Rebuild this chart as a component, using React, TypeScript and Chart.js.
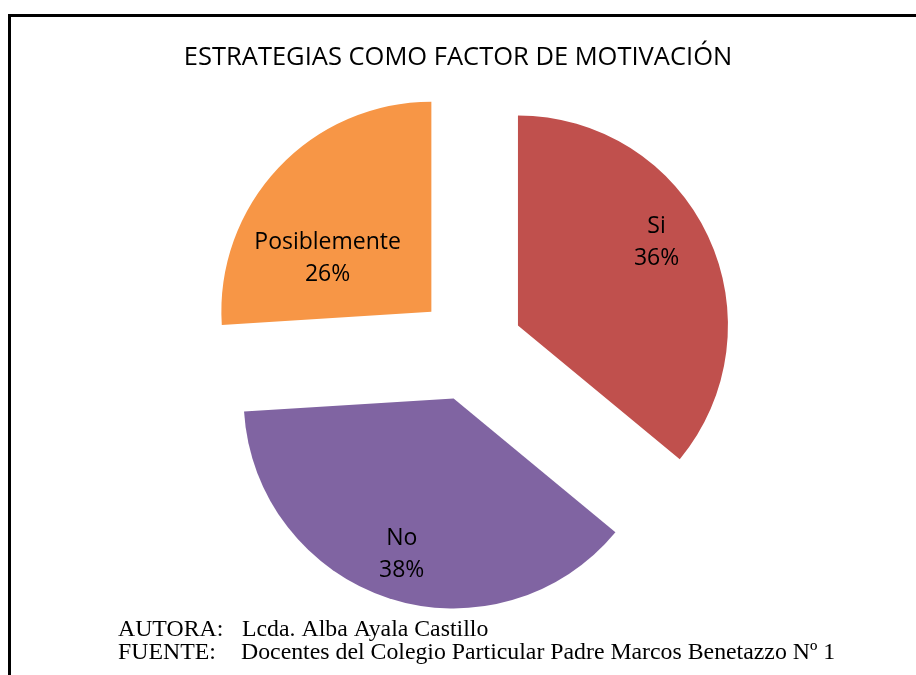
import React, { useEffect, useRef } from "react";
import { Chart, registerables, ArcElement } from "chart.js";

Chart.register(...registerables);

const TITLE = "ESTRATEGIAS COMO FACTOR DE MOTIVACIÓN";
const categories = ["Si", "No", "Posiblemente"];
const values = [36, 38, 26];
const colors = ["#C0504D", "#8064A2", "#F79646"];
// label placement relative to each exploded slice (fraction of radius, angular shift in degrees)
const labelRadius = [0.775, 0.773, 0.56];
const labelShiftDeg = [-6.4, 0.65, -15.1];
const footerKeys = ["AUTORA:", "FUENTE:"];
const footerValues = [
  "Lcda. Alba Ayala Castillo",
  "Docentes del Colegio Particular Padre Marcos Benetazzo Nº 1",
];

const EXPLODE = 53; // px slice displacement
const RADIUS = 210;

const baseArcDraw = ArcElement.prototype.draw;

const overlayPlugin = {
  id: "overlay",
  beforeDraw(chart: any) {
    const ctx = chart.ctx as CanvasRenderingContext2D;
    ctx.save();
    ctx.fillStyle = "#ffffff";
    ctx.fillRect(0, 0, chart.width, chart.height);
    ctx.fillStyle = "#000000";
    ctx.fillRect(8, 14, chart.width - 8, 3);
    ctx.fillRect(8, 14, 3, chart.height - 14);
    ctx.restore();
  },
  beforeDatasetsDraw(chart: any) {
    // explode each slice outward along its mid-angle without enlarging it
    const meta = chart.getDatasetMeta(0);
    meta.data.forEach((arc: any) => {
      if (arc.__exploded) return;
      arc.__exploded = true;
      arc.draw = function (ctx: CanvasRenderingContext2D, area: any) {
        const mid = (this.startAngle + this.endAngle) / 2;
        ctx.save();
        ctx.translate(Math.cos(mid) * EXPLODE, Math.sin(mid) * EXPLODE);
        baseArcDraw.call(this, ctx, area);
        ctx.restore();
      };
    });
  },
  afterDatasetsDraw(chart: any) {
    const ctx = chart.ctx as CanvasRenderingContext2D;
    const meta = chart.getDatasetMeta(0);
    ctx.save();
    ctx.fillStyle = "#000000";
    ctx.textAlign = "center";
    ctx.textBaseline = "alphabetic";
    ctx.font = '23px "Open Sans"';
    meta.data.forEach((arc: any, i: number) => {
      const p = arc.getProps(["x", "y", "startAngle", "endAngle", "outerRadius"], true);
      const mid = (p.startAngle + p.endAngle) / 2;
      const a = mid + (labelShiftDeg[i] * Math.PI) / 180;
      const cx = p.x + Math.cos(mid) * EXPLODE + Math.cos(a) * labelRadius[i] * p.outerRadius;
      const cy = p.y + Math.sin(mid) * EXPLODE + Math.sin(a) * labelRadius[i] * p.outerRadius;
      ctx.fillText(categories[i], cx, cy - 7.5);
      ctx.fillText(values[i] + "%", cx, cy + 24.5);
    });

    // title
    ctx.font = '25.5px "Open Sans"';
    ctx.textAlign = "center";
    ctx.fillText(TITLE, 458, 64.5);

    // footer
    ctx.font = '23.8px "Liberation Serif", "Times New Roman", serif';
    ctx.textAlign = "left";
    const baselines = [636, 659];
    const valueX = [242, 241];
    footerKeys.forEach((k, i) => {
      ctx.fillText(k, 118, baselines[i]);
      ctx.fillText(footerValues[i], valueX[i], baselines[i]);
    });
    ctx.restore();
  },
};

export default function App() {
  const canvasRef = useRef<HTMLCanvasElement | null>(null);

  useEffect(() => {
    if (!canvasRef.current) return;
    const chart = new Chart(canvasRef.current, {
      type: "pie",
      data: {
        labels: categories,
        datasets: [
          {
            data: values,
            backgroundColor: colors,
            borderWidth: 0,
            offset: 0,
            hoverOffset: 0,
          },
        ],
      },
      options: {
        responsive: false,
        animation: false,
        events: [],
        radius: RADIUS,
        layout: { padding: { left: 24, right: 0, top: 21, bottom: 0 } },
        plugins: {
          legend: { display: false },
          title: { display: false },
          tooltip: { enabled: false },
        },
      } as any,
      plugins: [overlayPlugin],
    });
    return () => chart.destroy();
  }, []);

  return (
    <div style={{ position: "absolute", left: 0, top: 0, width: 916, height: 675, background: "#fff" }}>
      <canvas ref={canvasRef} width={916} height={675} style={{ display: "block", width: 916, height: 675 }} />
    </div>
  );
}
